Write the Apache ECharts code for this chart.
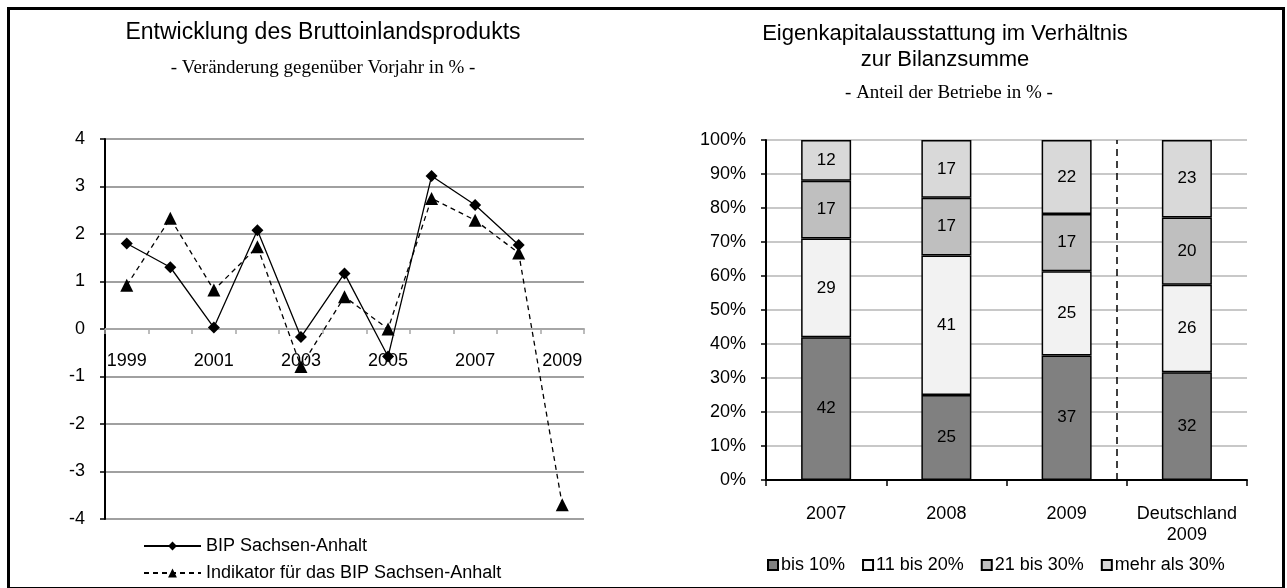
<!DOCTYPE html>
<html>
<head>
<meta charset="utf-8">
<script src="https://cdn.jsdelivr.net/npm/echarts@6/dist/echarts.min.js"></script>
<style>
  html, body { margin: 0; padding: 0; background: #fff; }
  #main { width: 1287px; height: 588px; }
</style>
</head>
<body>
<div id="main"></div>
<script>
// Daten linkes Diagramm: Veränderung BIP gegenüber Vorjahr in %
var jahre = ['1999', '2000', '2001', '2002', '2003', '2004', '2005', '2006', '2007', '2008', '2009'];
var bipSachsenAnhalt = [1.8, 1.3, 0.03, 2.08, -0.17, 1.17, -0.58, 3.22, 2.61, 1.77, null];
var indikatorBip = [0.92, 2.33, 0.82, 1.73, -0.79, 0.68, 0.0, 2.75, 2.29, 1.6, -3.7];

// Daten rechtes Diagramm: Anteil der Betriebe in %
var gruppen = ['2007', '2008', '2009', 'Deutschland\n2009'];
var klassen = ['bis 10%', '11 bis 20%', '21 bis 30%', 'mehr als 30%'];
var bis10 = [42, 25, 37, 32];
var von11bis20 = [29, 41, 25, 26];
var von21bis30 = [17, 17, 17, 20];
var mehrAls30 = [12, 17, 22, 23];
var farben = ['#808080', '#f2f2f2', '#bfbfbf', '#d9d9d9'];

var font = 'Liberation Sans, Arial, sans-serif';
var serif = 'Liberation Serif, Times New Roman, serif';

var myChart = echarts.init(document.getElementById('main'));

// 100%-Stapel: Werte auf Summe je Gruppe normieren
var reihen = [bis10, von11bis20, von21bis30, mehrAls30];
var summen = gruppen.map(function (g, i) {
    return reihen.reduce(function (s, r) { return s + r[i]; }, 0);
});

var barSeries = reihen.map(function (werte, k) {
    return {
        name: klassen[k],
        type: 'bar',
        stack: 'anteil',
        xAxisIndex: 1,
        yAxisIndex: 1,
        barWidth: 50,
        itemStyle: {color: farben[k], borderColor: '#000', borderWidth: 1.5},
        label: {
            show: true,
            position: 'inside',
            color: '#000',
            fontSize: 17,
            fontFamily: font,
            formatter: function (p) { return werte[p.dataIndex]; }
        },
        data: werte.map(function (v, i) { return v / summen[i] * 100; })
    };
});

var option = {
    animation: false,
    textStyle: {fontFamily: font, color: '#000'},
    title: [
        {
            text: 'Entwicklung des Bruttoinlandsprodukts',
            left: 318, top: 16, textAlign: 'center',
            textStyle: {fontSize: 23, fontWeight: 'normal', fontFamily: font, color: '#000'}
        },
        {
            text: '- Veränderung gegenüber Vorjahr in % -',
            left: 318, top: 54, textAlign: 'center',
            textStyle: {fontSize: 19, fontWeight: 'normal', fontFamily: serif, color: '#000'}
        },
        {
            text: 'Eigenkapitalausstattung im Verhältnis\nzur Bilanzsumme',
            left: 940, top: 16, textAlign: 'center',
            textStyle: {fontSize: 22, fontWeight: 'normal', fontFamily: font, color: '#000', lineHeight: 26}
        },
        {
            text: '- Anteil der Betriebe in % -',
            left: 944, top: 79, textAlign: 'center',
            textStyle: {fontSize: 19, fontWeight: 'normal', fontFamily: serif, color: '#000'}
        }
    ],
    legend: [
        {
            orient: 'vertical',
            left: 143, top: 537, padding: 0,
            itemWidth: 57, itemHeight: 11, itemGap: 9,
            textStyle: {fontSize: 18, fontFamily: font, color: '#000'},
            data: ['BIP Sachsen-Anhalt', 'Indikator für das BIP Sachsen-Anhalt']
        },
        {
            orient: 'horizontal',
            left: 762, top: 551,
            itemWidth: 10, itemHeight: 10, itemGap: 17,
            icon: 'rect',
            textStyle: {fontSize: 18, fontFamily: font, color: '#000', padding: [0, 0, 0, -2]},
            data: klassen
        }
    ],
    grid: [
        {left: 105, top: 139, width: 479, height: 380},
        {left: 766, top: 140, width: 481, height: 340}
    ],
    xAxis: [
        {
            type: 'category', gridIndex: 0, data: jahre, boundaryGap: true,
            axisLine: {onZero: true, lineStyle: {color: '#a6a6a6', width: 2}},
            axisTick: {show: true, interval: 0, length: 5, lineStyle: {color: '#a6a6a6', width: 1.5}},
            axisLabel: {interval: 1, fontSize: 18, color: '#000', margin: -167, fontFamily: font}
        },
        {
            type: 'category', gridIndex: 1, data: gruppen,
            axisLine: {lineStyle: {color: '#000', width: 2}},
            axisTick: {show: true, length: 6, lineStyle: {color: '#000', width: 1.5}},
            axisLabel: {interval: 0, fontSize: 18, color: '#000', margin: 24, lineHeight: 21, fontFamily: font}
        },
        {
            type: 'value', gridIndex: 1, min: 0, max: 4, show: false
        }
    ],
    yAxis: [
        {
            type: 'value', gridIndex: 0, min: -4, max: 4, interval: 1,
            axisLine: {show: true, lineStyle: {color: '#000', width: 2}},
            axisTick: {show: true, length: 5, lineStyle: {color: '#000', width: 1.5}},
            axisLabel: {fontSize: 18, color: '#000', margin: 20, fontFamily: font},
            splitLine: {lineStyle: {color: '#a0a0a0', width: 2}}
        },
        {
            type: 'value', gridIndex: 1, min: 0, max: 100, interval: 10,
            axisLine: {show: true, lineStyle: {color: '#000', width: 2}},
            axisTick: {show: true, length: 5, lineStyle: {color: '#000', width: 1.5}},
            axisLabel: {fontSize: 18, color: '#000', margin: 20, formatter: '{value}%', fontFamily: font},
            splitLine: {lineStyle: {color: '#c8c8c8', width: 2}}
        }
    ],
    graphic: [
        {
            type: 'rect', left: 6, top: 6, z: 100,
            shape: {width: 1275, height: 580},
            style: {fill: 'none', stroke: '#000', lineWidth: 3}
        }
    ],
    series: [
        {
            name: 'BIP Sachsen-Anhalt',
            type: 'line',
            xAxisIndex: 0, yAxisIndex: 0,
            symbol: 'diamond', symbolSize: 12,
            itemStyle: {color: '#000'},
            lineStyle: {color: '#000', width: 1.3},
            data: bipSachsenAnhalt
        },
        {
            name: 'Indikator für das BIP Sachsen-Anhalt',
            type: 'line',
            xAxisIndex: 0, yAxisIndex: 0,
            symbol: 'triangle', symbolSize: 13,
            itemStyle: {color: '#000'},
            lineStyle: {color: '#000', width: 1.3, type: [5, 4]},
            data: indikatorBip
        }
    ].concat(barSeries).concat([
        {
            name: 'Trennlinie',
            type: 'line',
            xAxisIndex: 2, yAxisIndex: 1,
            data: [],
            markLine: {
                silent: true,
                symbol: ['none', 'none'],
                label: {show: false},
                lineStyle: {color: '#000', width: 1.5, type: [7, 5]},
                data: [{xAxis: 2.92}]
            }
        }
    ])
};

myChart.setOption(option);
</script>
</body>
</html>
